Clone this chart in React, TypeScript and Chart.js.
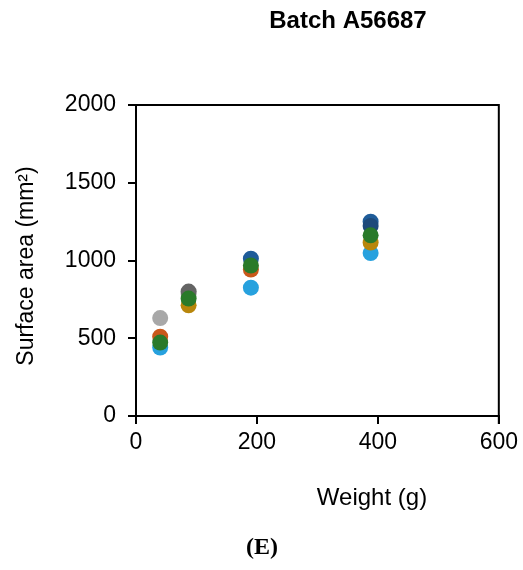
import React, { useEffect, useRef } from "react";
import { Chart, registerables } from "chart.js";

Chart.register(...registerables);

const chartTitle = "Batch A56687";
const xTitle = "Weight (g)";
const yTitle = "Surface area (mm²)";
const panelLabel = "(E)";

const xTicks = [0, 200, 400, 600];
const yTicks = [0, 500, 1000, 1500, 2000];

// series: [weight, surface area]
const lightBlue: [number, number][] = [[40, 440], [190, 825], [388, 1048]];
const gold: [number, number][] = [[87, 712], [388, 1115]];
const orange: [number, number][] = [[40, 510], [190, 942]];
const gray: [number, number][] = [[40, 630], [87, 785]];
const darkGray: [number, number][] = [[87, 800]];
const darkBlue: [number, number][] = [[190, 1012], [388, 1250]];
const navy: [number, number][] = [[388, 1222]];
const green: [number, number][] = [[40, 472], [87, 755], [190, 968], [388, 1162]];

// listed bottom-most first
const seriesList: { name: string; data: [number, number][]; color: string }[] = [
  { name: "S1", data: lightBlue, color: "#27A1DE" },
  { name: "S2", data: gold, color: "#B8860B" },
  { name: "S3", data: orange, color: "#C9581A" },
  { name: "S4", data: gray, color: "#A8A8A8" },
  { name: "S5", data: darkGray, color: "#646464" },
  { name: "S6", data: darkBlue, color: "#1F5C99" },
  { name: "S7", data: navy, color: "#1E4A7A" },
  { name: "S8", data: green, color: "#2A7A2A" },
];

const textPlugin = {
  id: "texts",
  afterDraw(chart: any) {
    const { ctx, chartArea } = chart;
    ctx.save();
    ctx.strokeStyle = "#000";
    ctx.lineWidth = 2;
    ctx.beginPath();
    ctx.moveTo(chartArea.left - 8, chartArea.top);
    ctx.lineTo(chartArea.right, chartArea.top);
    ctx.lineTo(chartArea.right, chartArea.bottom + 8);
    ctx.stroke();

    ctx.fillStyle = "#000";
    ctx.textAlign = "center";
    ctx.textBaseline = "middle";
    ctx.font = "bold 24px 'Liberation Sans', Arial, sans-serif";
    ctx.fillText(chartTitle, 348, 21);

    ctx.font = "24px 'Liberation Sans', Arial, sans-serif";
    ctx.fillText(xTitle, 372, 498);

    ctx.save();
    ctx.translate(27, 266);
    ctx.rotate(-Math.PI / 2);
    ctx.font = "23px 'Liberation Sans', Arial, sans-serif";
    ctx.fillText(yTitle, 0, 0);
    ctx.restore();

    ctx.font = "bold 24px 'Liberation Serif', 'Times New Roman', serif";
    ctx.fillText(panelLabel, 262, 548);
    ctx.restore();
  },
};

export default function App() {
  const ref = useRef<HTMLCanvasElement>(null);
  useEffect(() => {
    if (!ref.current) return;
    const n = seriesList.length;
    const chart = new Chart(ref.current, {
      type: "scatter",
      data: {
        datasets: seriesList.map((s, i) => ({
          label: s.name,
          data: s.data.map(([x, y]) => ({ x, y })),
          backgroundColor: s.color,
          borderColor: s.color,
          borderWidth: 0,
          pointRadius: 8,
          pointHoverRadius: 8,
          order: n - i,
        })),
      },
      options: {
        responsive: false,
        animation: false,
        devicePixelRatio: 1,
        layout: { padding: { left: 0, right: 24, top: 105, bottom: 0 } },
        plugins: {
          legend: { display: false },
          tooltip: { enabled: false },
          title: { display: false },
        },
        scales: {
          x: {
            type: "linear",
            min: 0,
            max: 600,
            afterFit: (scale: any) => {
              scale.height = 570 - 416;
            },
            afterBuildTicks: (scale: any) => {
              scale.ticks = xTicks.map((v) => ({ value: v }));
            },
            ticks: {
              color: "#000",
              font: { size: 23, family: "'Liberation Sans', Arial, sans-serif" },
              padding: 5,
              maxRotation: 0,
              callback: (v: any) => String(v),
            },
            grid: {
              display: true,
              drawOnChartArea: false,
              drawTicks: true,
              tickLength: 8,
              color: "#000",
              lineWidth: 2,
            },
            border: { display: true, color: "#000", width: 2 },
          },
          y: {
            type: "linear",
            min: 0,
            max: 2000,
            afterFit: (scale: any) => {
              scale.width = 136;
            },
            afterBuildTicks: (scale: any) => {
              scale.ticks = yTicks.map((v) => ({ value: v }));
            },
            ticks: {
              color: "#000",
              font: { size: 23, family: "'Liberation Sans', Arial, sans-serif" },
              padding: 12,
              callback: (v: any) => String(v),
            },
            grid: {
              display: true,
              drawOnChartArea: false,
              drawTicks: true,
              tickLength: 8,
              color: "#000",
              lineWidth: 2,
            },
            border: { display: true, color: "#000", width: 2 },
          },
        },
      },
      plugins: [textPlugin],
    });
    return () => chart.destroy();
  }, []);
  return (
    <div style={{ position: "absolute", left: 0, top: 0, width: 523, height: 570, background: "#fff" }}>
      <canvas ref={ref} width={523} height={570} style={{ width: 523, height: 570 }} />
    </div>
  );
}
